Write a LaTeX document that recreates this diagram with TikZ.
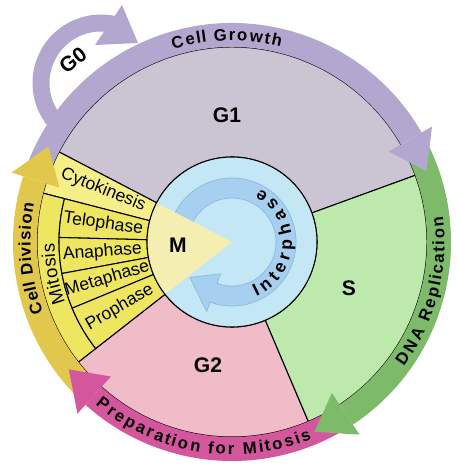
\documentclass[tikz,border=0pt]{standalone}
\usepackage{fontspec}
\setmainfont{Liberation Sans}
\setsansfont{Liberation Sans}
\usetikzlibrary{decorations.text}

\definecolor{gonefill}{HTML}{CAC4D3}
\definecolor{sfill}{HTML}{BDE9AD}
\definecolor{gtwofill}{HTML}{EFBCC7}
\definecolor{cytofill}{HTML}{F6EF88}
\definecolor{phasefill}{HTML}{EEE660}
\definecolor{mfill}{HTML}{F4EFB0}
\definecolor{interfill}{HTML}{C4E7F5}
\definecolor{ringfill}{HTML}{A7CFF0}
\definecolor{ringline}{HTML}{8DB9DC}
\definecolor{growcol}{HTML}{B3A6CF}
\definecolor{dnacol}{HTML}{7DBB6B}
\definecolor{prepcol}{HTML}{D4569C}
\definecolor{divcol}{HTML}{E2C74D}

% piece of a ring: fill, start angle, end angle, inner radius, outer radius
\newcommand{\ringpiece}[5]{\filldraw[sectorline,fill=#1] (#2:#4) -- (#2:#5) arc[start angle=#2,end angle=#3,radius=#5] -- (#3:#4) arc[start angle=#3,end angle=#2,radius=#4] -- cycle;}
\newcommand{\bandbold}{\fontsize{9.5}{11}\selectfont\bfseries}

\begin{document}
\begin{tikzpicture}[x=0.02cm,y=0.02cm]
    \tikzset{sectorline/.style={draw=black,line width=0.6pt},
      stagelabel/.style={font=\fontsize{12}{14}\selectfont\bfseries},
      phaselabel/.style={font=\fontsize{10}{12}\selectfont},
      arctext/.style 2 args={decorate,decoration={text effects along path,text={#2},
        text effects/.cd,text along path,fit text to path,characters={font=#1}}}};
    \useasboundingbox (-232,-224) rectangle (226,242);
    % G0 loop
    \draw[growcol,line width=0.34cm,shift={(-131,159)}] (250:60) arc[start angle=250,end angle=75,radius=60];
    \fill[growcol] (-137,197) -- (-110,237) -- (-94,199) -- cycle;
    % phases
    \ringpiece{gonefill}{20}{152.5}{85}{195}
    \ringpiece{sfill}{-67}{20}{85}{195}
    \ringpiece{gtwofill}{-142}{-67}{85}{195}
    \ringpiece{cytofill}{152.5}{165.5}{85}{195}
    \ringpiece{phasefill}{165.5}{218}{173}{195}
    \foreach \a/\b/\name in {165.5/178.5/Telophase,178.5/190.5/Anaphase,190.5/202.5/Metaphase,202.5/218/Prophase}
      {\ringpiece{phasefill}{\a}{\b}{85}{173}
       \node[phaselabel,rotate={(\a+\b)/2-180}] (\name) at ({(\a+\b)/2}:130) {\name};}
    % interphase
    \fill[interfill] (0,0) circle[radius=85];
    \filldraw[fill=ringfill,draw=ringline,line width=0.4pt] (160:64) arc[start angle=160,end angle=-110,radius=64] -- (-110:74) -- (-140:55) -- (-110:34) -- (-110:44) arc[start angle=-110,end angle=160,radius=44] -- cycle;
    \path[arctext={\fontsize{10}{11}\selectfont\bfseries}{Interphase}] (-66:60) arc[start angle=-66,end angle=62,radius=60];
    \fill[mfill] (0,0) -- (152.5:85) arc[start angle=152.5,end angle=218,radius=85] -- cycle;
    \draw[sectorline] (0,0) circle[radius=85];
    % outer arrows
    \foreach \col/\s/\e in {growcol/158/30,dnacol/26/-56.5,prepcol/-61/-132,divcol/224/162.5}
      {\fill[\col] (\s:195) arc[start angle=\s,end angle=\e,radius=195] -- (\e:219) arc[start angle=\e,end angle=\s,radius=219] -- cycle;}
    \foreach \col/\e/\t in {growcol/30/20,dnacol/-56.5/-66.5,prepcol/-132/-142,divcol/162.5/152.5}
      {\fill[\col] (\e:181) -- (\t:207) -- (\e:231) -- cycle;}
    % labels
    \path[arctext={\bandbold}{Cell Growth}] (107:201.5) arc[start angle=107,end angle=76,radius=201.5];
    \path[arctext={\bandbold}{DNA Replication}] (-36:212.5) arc[start angle=-36,end angle=7,radius=212.5];
    \path[arctext={\bandbold}{Preparation for Mitosis}] (-130:212.5) arc[start angle=-130,end angle=-68,radius=212.5];
    \path[arctext={\bandbold}{Cell Division}] (200.5:201.5) arc[start angle=200.5,end angle=169,radius=201.5];
    \path[arctext={\fontsize{10.5}{12}\selectfont}{Mitosis}] (200:177.5) arc[start angle=200,end angle=180.5,radius=177.5];
    \node[phaselabel,rotate=-22] (cyto) at (158:139) {Cytokinesis};
    \node[stagelabel] (G1) at (-5,127) {G1};
    \node[stagelabel] (S) at (117,-46) {S};
    \node[stagelabel] (G2) at (-24,-123) {G2};
    \node[stagelabel] (M) at (-54,-3) {M};
    \node[stagelabel,rotate=37] (G0) at (-159,182) {G0};
\end{tikzpicture}
\end{document}
